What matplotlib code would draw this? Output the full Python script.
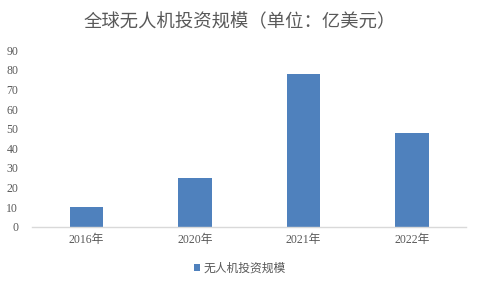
import matplotlib.pyplot as plt

# Data
years = ['2016年', '2020年', '2021年', '2022年']
investment = [10, 25, 78, 48]
yticks = list(range(0, 100, 10))

fam = ['Liberation Serif', 'Noto Sans CJK SC']
text_color = '#595959'
bar_color = '#4F81BD'

fig = plt.figure(figsize=(4.8, 2.88), dpi=100)
ax = fig.add_axes([0.067, 0.212, 0.904, 0.614])

ax.bar(range(len(years)), investment, width=0.31, color=bar_color, label='无人机投资规模')
ax.set_xlim(-0.5, len(years) - 0.5)
ax.set_ylim(0, 90)
ax.set_yticks(yticks)
ax.set_xticks(range(len(years)))
ax.set_xticklabels(years, family=fam, fontsize=8.5, color=text_color)
ax.set_yticklabels([str(t) for t in yticks], family=fam, fontsize=8.5, color=text_color)
ax.tick_params(axis='both', length=0, pad=5)
ax.tick_params(axis='y', pad=10)

for side in ['top', 'right', 'left']:
    ax.spines[side].set_visible(False)
ax.spines['bottom'].set_color('#D9D9D9')
ax.spines['bottom'].set_linewidth(1)

fig.text(0.5, 0.922, '全球无人机投资规模（单位：亿美元）', ha='center', va='center',
         family=['Noto Sans CJK SC', 'DejaVu Sans'], fontsize=13.2, color=text_color)

leg = fig.legend(loc='center', bbox_to_anchor=(0.5, 0.066), frameon=False,
                 prop={'family': fam, 'size': 8.5}, handlelength=0.55, handleheight=0.55,
                 handletextpad=0.3, labelcolor=text_color)

fig.savefig('out.png', dpi=100)
